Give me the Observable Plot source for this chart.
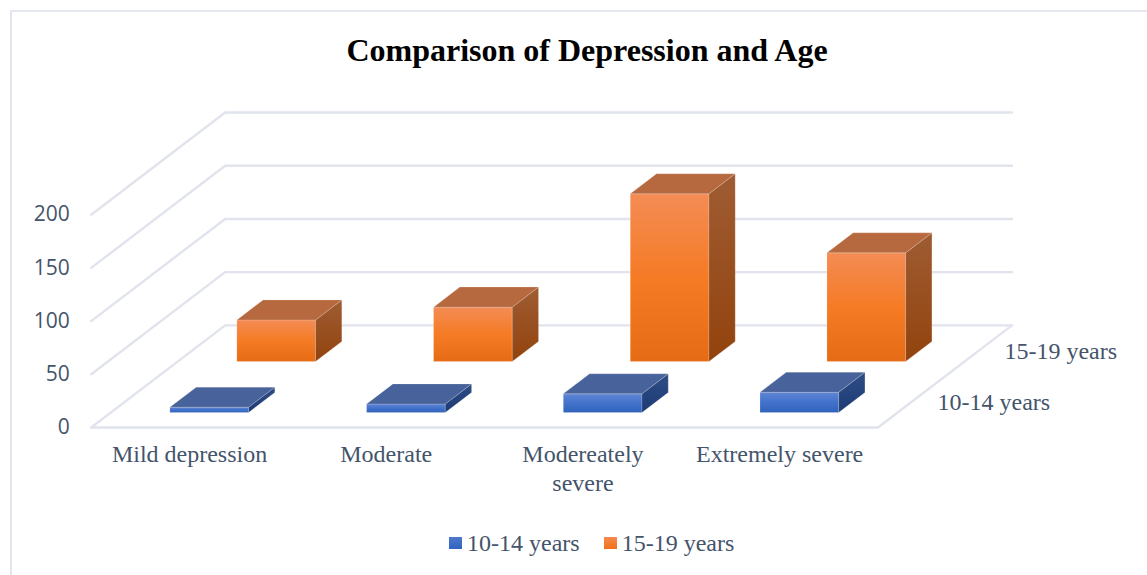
<!DOCTYPE html>
<html>
<head>
<meta charset="utf-8">
<script src="https://cdn.jsdelivr.net/npm/d3@7"></script>
<script src="https://cdn.jsdelivr.net/npm/@observablehq/plot@0.6"></script>
<style>
  html, body { margin: 0; padding: 0; background: #fff; }
  body { width: 1147px; height: 575px; overflow: hidden; position: relative; }
  #frame { position: absolute; left: 10px; top: 10px; width: 1137px; height: 565px;
           border-left: 2px solid #e2e4ee; border-top: 2px solid #e4e6f0; box-sizing: border-box; }
  #title { position: absolute; left: 0; width: 1147px; top: 30px; text-align: center; padding-left: 27px; box-sizing: border-box;
           font: bold 32px "Liberation Serif", serif; color: #000; line-height: 40px; }
  #chart { position: absolute; left: 0; top: 80px; }
  #legend { position: absolute; left: 449px; top: 528px; display: flex; align-items: center;
            font: 24px "Liberation Serif", serif; color: #44546a; line-height: 30px; }
  #legend i { display: inline-block; width: 13px; height: 12px; margin-right: 5px; }
  #legend span { margin-right: 24px; }
</style>
</head>
<body>
<div id="frame"></div>
<div id="title">Comparison of Depression and Age</div>
<div id="chart"></div>
<div id="legend"></div>
<script>
// Survey counts by depression level and age band
const categories = ["Mild depression", "Moderate", "Modereately\nsevere", "Extremely severe"];
const age1014 = [5, 8, 17.5, 19];
const age1519 = [39, 51, 157.5, 102];
const seriesNames = ["10-14 years", "15-19 years"];
const yTicks = [0, 50, 100, 150, 200];

// Oblique projection of (category, value, depth) onto the chart plane:
// one unit of depth moves a point right and up by these amounts.
const shearX = 0.681;
const shearY = 96;
const project = (c, v, d) => ({px: c + shearX * d, py: v + shearY * d});

// Each bar fills 40% of its category and about a fifth of the floor depth
const barInset = 0.3, barWidth = 0.4, barDepth = 0.196;
const seriesDepth = [0.147, 0.647];

// Back walls and side wall: one polyline for each value level, plus the floor edges
const gridLines = [];
yTicks.forEach(v => {
  [[0, 0], [0, 1], [4, 1]].forEach(([c, d]) => gridLines.push({id: `v${v}`, ...project(c, v, d)}));
});
[[0, 0], [4, 0], [4, 1]].forEach(([c, d]) => gridLines.push({id: "floor", ...project(c, 0, d)}));

// Three visible faces of a box, as closed point lists
function boxFaces(series, i, value) {
  const c0 = i + barInset, c1 = c0 + barWidth;
  const d0 = seriesDepth[series], d1 = d0 + barDepth;
  const quad = (face, pts) => pts.map(([c, v, d]) => ({
    id: `${series}-${i}-${face}`, face, series, ...project(c, v, d)
  }));
  return [
    quad("front", [[c0, 0, d0], [c1, 0, d0], [c1, value, d0], [c0, value, d0], [c0, 0, d0]]),
    quad("side", [[c1, 0, d0], [c1, 0, d1], [c1, value, d1], [c1, value, d0], [c1, 0, d0]]),
    quad("top", [[c0, value, d0], [c1, value, d0], [c1, value, d1], [c0, value, d1], [c0, value, d0]])
  ];
}
const faces = (series, values) => values.flatMap((v, i) => boxFaces(series, i, v));

const faceMark = (series, face) => faces(series, series ? age1519 : age1014)
  .filter(q => q[0].face === face)
  .map(q => Plot.line(q, {
    x: "px", y: "py", curve: "linear",
    fill: `url(#${series ? "orange" : "blue"}-${face})`,
    stroke: "#f3e9e2", strokeOpacity: 0.2, strokeWidth: 1
  }));

// Vertical gradients shared by the faces
function gradients() {
  const defs = d3.create("svg:defs");
  const add = (id, stops) => {
    const g = defs.append("linearGradient").attr("id", id).attr("x1", 0).attr("y1", 0).attr("x2", 0).attr("y2", 1);
    stops.forEach(([o, c]) => g.append("stop").attr("offset", o).attr("stop-color", c));
  };
  add("orange-front", [[0, "#f48c55"], [0.5, "#f57b25"], [1, "#e66b15"]]);
  add("orange-side", [[0, "#9f5c33"], [1, "#92430d"]]);
  add("orange-top", [[0, "#b6693f"], [1, "#b6693f"]]);
  add("blue-front", [[0, "#5f86d6"], [0.5, "#4272cb"], [1, "#2f63bd"]]);
  add("blue-side", [[0, "#2e4d85"], [1, "#1d3a75"]]);
  add("blue-top", [[0, "#48639b"], [1, "#48639b"]]);
  return defs.node();
}

const ink = "#44546a";
const serif = "Liberation Serif";

const plot = Plot.plot({
  width: 1147,
  height: 430,
  marginLeft: 90.7,
  marginRight: 269.5,
  marginTop: 31.5,
  marginBottom: 83,
  style: {background: "transparent", overflow: "visible"},
  x: {domain: [0, 4], axis: null},
  y: {domain: [0, 296.5], axis: null},
  marks: [
    gradients,
    Plot.line(gridLines, {x: "px", y: "py", z: "id", stroke: "#e1e4ed", strokeWidth: 2.4}),
    ...faceMark(1, "front"), ...faceMark(1, "side"), ...faceMark(1, "top"),
    ...faceMark(0, "front"), ...faceMark(0, "side"), ...faceMark(0, "top"),
    Plot.axisY({
      ticks: yTicks, tickSize: 0, tickPadding: 21.5, anchor: "left", label: null,
      fontSize: 21, fontFamily: "Open Sans", fill: ink
    }),
    Plot.text(categories, {
      x: (d, i) => i + 0.5, y: () => 0, text: d => d, dy: 14,
      lineAnchor: "top", fontSize: 24, fontFamily: serif, fill: ink, lineHeight: 1.2
    }),
    Plot.text(seriesNames, {
      x: (d, i) => project(4, 0, seriesDepth[i] + 0.103).px,
      y: (d, i) => project(4, 0, seriesDepth[i] + 0.103).py,
      text: d => d, textAnchor: "start", dx: 26, fontSize: 24, fontFamily: serif, fill: ink
    })
  ]
});
document.getElementById("chart").appendChild(plot);

// Legend row below the plot
const legend = d3.select("#legend");
seriesNames.forEach((name, i) => {
  legend.append("i").style("background", i
    ? "linear-gradient(#f58a4f, #f1701b)"
    : "linear-gradient(#4f79cf, #2f63bd)");
  legend.append("span").text(name);
});
</script>
</body>
</html>
